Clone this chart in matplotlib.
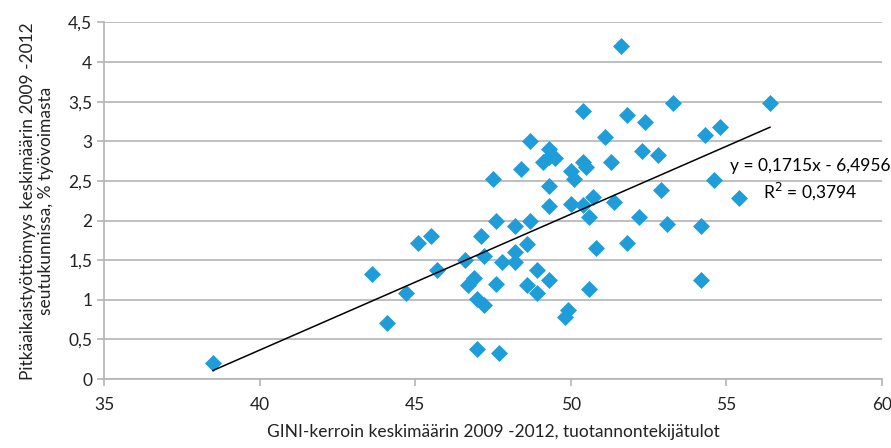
import numpy as np
import matplotlib
matplotlib.use("Agg")
import matplotlib.pyplot as plt
from matplotlib.ticker import FuncFormatter, MultipleLocator

plt.rcParams["font.family"] = ["Lato", "DejaVu Sans"]

# GINI coefficient (x) vs long-term unemployment share (y), one point per sub-region
gini = [38.5, 43.6, 44.1, 44.7, 45.1, 45.5, 45.7, 46.6, 46.7, 46.9,
        47.0, 47.0, 47.1, 47.2, 47.2, 47.5, 47.6, 47.6, 47.7, 47.8,
        48.2, 48.2, 48.2, 48.4, 48.6, 48.6, 48.7, 48.7, 48.9, 48.9,
        49.1, 49.3, 49.3, 49.3, 49.3, 49.3, 49.5, 49.8, 49.9, 50.0,
        50.1, 50.0, 50.4, 50.4, 50.4, 50.5, 50.6, 50.6, 50.7, 50.8,
        51.1, 51.3, 51.4, 51.6, 51.8, 51.8, 52.2, 52.3, 52.4, 52.8,
        52.9, 53.1, 53.3, 54.2, 54.2, 54.3, 54.6, 54.8, 55.4, 56.4]
unemployment = [0.20, 1.33, 0.71, 1.08, 1.71, 1.80, 1.38, 1.50, 1.19, 1.27,
                1.01, 0.38, 1.80, 1.55, 0.93, 2.52, 1.20, 2.00, 0.33, 1.48,
                1.60, 1.93, 1.48, 2.65, 1.70, 1.18, 2.00, 3.00, 1.08, 1.38,
                2.74, 2.90, 2.43, 2.18, 1.25, 2.80, 2.79, 0.78, 0.87, 2.62,
                2.53, 2.21, 2.74, 3.38, 2.20, 2.67, 2.05, 1.13, 2.30, 1.65,
                3.05, 2.74, 2.23, 4.20, 3.33, 1.71, 2.05, 2.88, 3.24, 2.83,
                2.38, 1.95, 3.48, 1.25, 1.93, 3.08, 2.51, 3.18, 2.28, 3.48]

slope, intercept = 0.1715, -6.4956
r2 = 0.3794

x_ticks = [35, 40, 45, 50, 55, 60]

fig = plt.figure(figsize=(8.91, 4.48), dpi=100)
ax = fig.add_axes([0.1167, 0.154, 0.8732, 0.796])

ax.scatter(gini, unemployment, marker="D", s=75, color="#1e9dd8", zorder=3, linewidths=0)

# linear trend over the data range
xs = np.array([min(gini), max(gini)])
ax.plot(xs, slope * xs + intercept, color="black", lw=1.1, zorder=4)

eq = f"y = {slope:.4f}x - {abs(intercept):.4f}".replace(".", ",")
r2_txt = f"R$^2$ = {r2:.4f}".replace(".", ",")
ax.text(57.68, 2.51, eq + "\n" + r2_txt, ha="center", va="center",
        fontsize=12.5, linespacing=1.35, zorder=5, clip_on=False)

ax.set_xlim(35, 60)
ax.set_ylim(0, 4.5)
ax.set_xticks(x_ticks)
ax.yaxis.set_major_locator(MultipleLocator(0.5))
ax.yaxis.set_major_formatter(FuncFormatter(lambda v, p: f"{v:g}".replace(".", ",")))

ax.grid(axis="y", color="#b4b4b4", lw=1.2)
ax.set_axisbelow(True)
for side in ["top", "right"]:
    ax.spines[side].set_visible(False)
for side in ["left", "bottom"]:
    ax.spines[side].set_color("#b4b4b4")
    ax.spines[side].set_linewidth(1.2)
ax.tick_params(axis="both", colors="#b4b4b4", labelcolor="#222222",
               labelsize=12.5, length=5, width=1.2)
ax.tick_params(axis="x", pad=8)

ax.set_xlabel("GINI-kerroin keskimäärin 2009 -2012, tuotannontekijätulot",
              fontsize=12.5, color="#222222", labelpad=8)
ax.set_ylabel("Pitkäaikaistyöttömyys keskimäärin 2009 -2012\nseutukunnissa, % työvoimasta",
              fontsize=12.5, color="#222222", labelpad=10, linespacing=1.15)

fig.savefig("out.png", dpi=100)
